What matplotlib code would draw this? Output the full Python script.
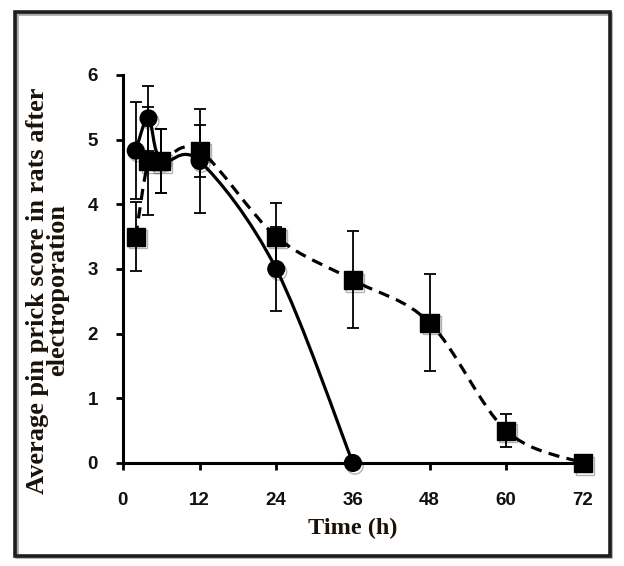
import matplotlib
matplotlib.use('Agg')
import numpy as np
import matplotlib.pyplot as plt
import matplotlib.patheffects as pe
from matplotlib.path import Path
from matplotlib.patches import PathPatch, Rectangle

# data
t_circle = [2, 4, 6, 12, 24, 36]
y_circle = [4.83, 5.33, 4.67, 4.67, 3.0, 0.0]
e_circle = [0.75, 0.5, 0.5, 0.8, 0.65, 0.0]

t_square = [2, 4, 6, 12, 24, 36, 48, 60, 72]
y_square = [3.5, 4.67, 4.67, 4.83, 3.5, 2.83, 2.17, 0.5, 0.0]
e_square = [0.53, 0.83, 0.5, 0.4, 0.52, 0.75, 0.75, 0.25, 0.0]

xticks = [0, 12, 24, 36, 48, 60, 72]
yticks = [0, 1, 2, 3, 4, 5, 6]


def smooth_path(x, y, tension=0.5):
    # Excel-like smoothed line: cubic bezier segments through the points
    x = np.asarray(x, float)
    y = np.asarray(y, float)
    n = len(x)
    verts = [(x[0], y[0])]
    codes = [Path.MOVETO]
    for i in range(n - 1):
        x0, y0 = (x[i - 1], y[i - 1]) if i > 0 else (x[i], y[i])
        x3, y3 = (x[i + 2], y[i + 2]) if i + 2 < n else (x[i + 1], y[i + 1])
        c1 = (x[i] + (x[i + 1] - x0) * tension / 3, y[i] + (y[i + 1] - y0) * tension / 3)
        c2 = (x[i + 1] - (x3 - x[i]) * tension / 3, y[i + 1] - (y3 - y[i]) * tension / 3)
        verts += [c1, c2, (x[i + 1], y[i + 1])]
        codes += [Path.CURVE4] * 3
    return Path(verts, codes)


plt.rcParams['font.family'] = 'Liberation Sans'
fig = plt.figure(figsize=(6.24, 5.66), dpi=100)

# outer frame
frame = Rectangle((0.024, 0.018), 0.953, 0.96, transform=fig.transFigure,
                  fill=False, edgecolor='#1e1e1e', linewidth=2.6)
frame.set_path_effects([pe.SimpleLineShadow(offset=(1.2, -1.2), alpha=0.35), pe.Normal()])
fig.patches.append(frame)

ax = fig.add_axes([0.197, 0.182, 0.737, 0.6855])

ax.add_patch(PathPatch(smooth_path(t_square, y_square), fill=False, edgecolor='black',
                       linewidth=2.3, linestyle=(0, (3.5, 2.3)), zorder=2))
ax.add_patch(PathPatch(smooth_path(t_circle, y_circle), fill=False, edgecolor='black',
                       linewidth=2.3, zorder=2))

ax.errorbar(t_circle, y_circle, yerr=e_circle, fmt='none', ecolor='black',
            elinewidth=1.3, capsize=4.5, capthick=1.3, zorder=3)
ax.errorbar(t_square, y_square, yerr=e_square, fmt='none', ecolor='black',
            elinewidth=1.3, capsize=4.5, capthick=1.3, zorder=3)
ax.plot(t_circle, y_circle, 'o', color='black', markersize=12, zorder=4, clip_on=False,
        path_effects=[pe.SimpleLineShadow(offset=(1.5, -2), alpha=0.3), pe.Normal()])
ax.plot(t_square, y_square, 's', color='black', markersize=13, zorder=5, clip_on=False,
        path_effects=[pe.SimpleLineShadow(offset=(1.5, -2), alpha=0.3), pe.Normal()])

ax.set_xlim(0, 72)
ax.set_ylim(0, 6)
ax.set_xticks(xticks)
ax.set_yticks(yticks)
ax.spines['top'].set_visible(False)
ax.spines['right'].set_visible(False)
ax.spines['left'].set_linewidth(2.2)
ax.spines['bottom'].set_linewidth(2.2)
ax.tick_params(direction='out', length=5, width=2, labelsize=13.5, pad=13,
               labelcolor='#111111')
ax.tick_params(axis='x', pad=16)
for lab in ax.get_xticklabels() + ax.get_yticklabels():
    lab.set_fontweight('bold')

ax.set_xlabel('Time (h)', fontfamily='Liberation Serif', fontweight='bold',
              fontsize=17.5, labelpad=6, color='#1a1208')
ax.set_ylabel('Average pin prick score in rats after\nelectroporation',
              fontfamily='Liberation Serif', fontweight='bold', fontsize=19,
              linespacing=0.82, color='#1a1208')
ax.yaxis.set_label_coords(-0.118, 0.445)

fig.savefig('out.png', dpi=100)
